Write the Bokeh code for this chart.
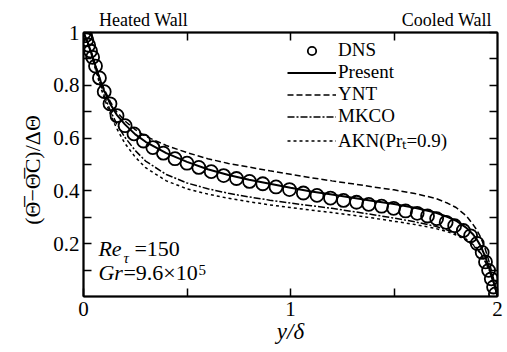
from bokeh.plotting import figure
from bokeh.models import (LinearAxis, FixedTicker, PrintfTickFormatter, Label,
                          Legend, LegendItem, Range1d, CustomJSTickFormatter)
from bokeh.embed import file_html
from bokeh.resources import INLINE

# ---- data ----
dns_x = [0.005, 0.010, 0.016, 0.025, 0.034, 0.044, 0.058, 0.077, 0.100, 0.128,
         0.162, 0.201, 0.244, 0.290, 0.335, 0.386, 0.442, 0.500, 0.557, 0.617,
         0.677, 0.739, 0.802, 0.866, 0.930, 0.995, 1.062, 1.128, 1.193, 1.256,
         1.319, 1.378, 1.440, 1.498, 1.556, 1.612, 1.662, 1.706, 1.752, 1.793,
         1.835, 1.870, 1.902, 1.926, 1.942, 1.957, 1.970, 1.981, 1.990]
dns_y = [1.000, 0.988, 0.972, 0.952, 0.930, 0.906, 0.873, 0.828, 0.776, 0.730,
         0.685, 0.647, 0.616, 0.589, 0.564, 0.543, 0.522, 0.505, 0.489, 0.473,
         0.458, 0.447, 0.436, 0.427, 0.415, 0.405, 0.392, 0.383, 0.373, 0.364,
         0.357, 0.349, 0.342, 0.334, 0.324, 0.315, 0.305, 0.295, 0.281, 0.268,
         0.250, 0.230, 0.201, 0.167, 0.131, 0.099, 0.067, 0.036, 0.010]

model_x = [0.0, 0.02, 0.04, 0.06, 0.08, 0.10, 0.13, 0.16, 0.20, 0.25, 0.30, 0.40,
           0.50, 0.60, 0.70, 0.80, 0.90, 1.00, 1.10, 1.20, 1.30, 1.40, 1.50,
           1.60, 1.70, 1.76, 1.80, 1.85, 1.88, 1.90, 1.92, 1.94, 1.96, 1.98,
           1.99, 2.00]
present_y = [1.0, 0.963, 0.918, 0.868, 0.821, 0.779, 0.728, 0.689, 0.652, 0.614,
             0.586, 0.543, 0.510, 0.482, 0.460, 0.442, 0.427, 0.412, 0.398,
             0.386, 0.374, 0.362, 0.350, 0.336, 0.318, 0.301, 0.287, 0.260,
             0.237, 0.216, 0.189, 0.152, 0.109, 0.058, 0.030, 0.0]
ynt_y = [1.0, 0.963, 0.920, 0.870, 0.825, 0.785, 0.737, 0.700, 0.665, 0.632,
         0.607, 0.572, 0.545, 0.522, 0.504, 0.490, 0.476, 0.463, 0.450, 0.438,
         0.427, 0.415, 0.404, 0.390, 0.372, 0.353, 0.337, 0.305, 0.275, 0.252,
         0.222, 0.182, 0.130, 0.070, 0.035, 0.0]
mkco_y = [1.0, 0.960, 0.913, 0.860, 0.808, 0.762, 0.703, 0.655, 0.603, 0.553,
          0.513, 0.462, 0.430, 0.408, 0.391, 0.377, 0.365, 0.354, 0.344, 0.334,
          0.322, 0.310, 0.297, 0.283, 0.266, 0.251, 0.238, 0.217, 0.198, 0.183,
          0.163, 0.135, 0.100, 0.055, 0.028, 0.0]
akn_y = [1.0, 0.958, 0.910, 0.855, 0.800, 0.752, 0.690, 0.637, 0.580, 0.528,
         0.488, 0.438, 0.408, 0.388, 0.372, 0.359, 0.347, 0.337, 0.327, 0.318,
         0.308, 0.297, 0.285, 0.273, 0.258, 0.245, 0.233, 0.213, 0.195, 0.180,
         0.160, 0.133, 0.099, 0.055, 0.028, 0.0]

x_ticks = [0, 1, 2]
x_minor = [0.5, 1.5]
y_ticks = [0.2, 0.4, 0.6, 0.8, 1.0]
y_minor = [0.1, 0.3, 0.5, 0.7, 0.9]
wall_pos = [0.29, 1.755]
wall_labels = ["Heated Wall", "Cooled Wall"]
top_ticks = [0.5, 1.0, 1.5]

FONT = "'Liberation Serif', serif"

p = figure(width=507, height=352, output_backend="svg", toolbar_location=None,
           x_range=Range1d(0, 2), y_range=Range1d(0, 1),
           min_border_left=83, min_border_right=10, min_border_top=32,
           min_border_bottom=56)
p.grid.visible = False
p.outline_line_color = "black"
p.outline_line_width = 1.5
p.background_fill_color = "white"
p.border_fill_color = "white"


def style_axis(ax, ticks, minor, show_labels=True):
    ax.ticker = FixedTicker(ticks=ticks, minor_ticks=minor)
    ax.major_tick_in = 8
    ax.major_tick_out = 0
    ax.minor_tick_in = 8
    ax.minor_tick_out = 0
    ax.axis_line_width = 2
    ax.axis_line_color = "black"
    ax.major_tick_line_width = 1.5
    ax.minor_tick_line_width = 1.5
    ax.major_tick_line_color = "black"
    ax.minor_tick_line_color = "black"
    ax.major_label_text_font = FONT
    ax.major_label_text_color = "black"
    ax.major_label_text_font_size = "21px"
    if show_labels:
        ax.formatter = PrintfTickFormatter(format="%g")
    else:
        ax.formatter = CustomJSTickFormatter(code="return '';")
        ax.major_label_standoff = 0


xa = p.xaxis[0]
ya = p.yaxis[0]
style_axis(xa, x_ticks, x_minor)
style_axis(ya, y_ticks, y_minor)
xa.major_label_standoff = 5
ya.major_label_standoff = 4
xa.axis_label = "y/δ"
xa.axis_label_text_font = FONT
xa.axis_label_text_font_style = "italic"
xa.axis_label_text_font_size = "23px"
xa.axis_label_text_color = "black"
xa.axis_label_standoff = 0
ya.axis_label = "(\u0398\u0305\u2212\u0398\u0305C)/\u0394\u0398\u00a0\u00a0"
ya.axis_label_text_font = FONT
ya.axis_label_text_font_style = "normal"
ya.axis_label_text_font_size = "22px"
ya.axis_label_text_color = "black"
ya.axis_label_standoff = 5

# top axis: ticks at 0.5/1/1.5, wall names as labels
top = LinearAxis()
style_axis(top, wall_pos, top_ticks)
top.major_tick_in = 0
top.major_label_text_font_size = "18px"
top.major_label_standoff = 3
top.formatter = CustomJSTickFormatter(
    args=dict(labels=wall_labels),
    code="return tick < 1 ? labels[0] : labels[1];")
p.add_layout(top, "above")

right = LinearAxis()
style_axis(right, y_ticks, y_minor, show_labels=False)
p.add_layout(right, "right")

r_dns = p.scatter(dns_x, dns_y, marker="circle", size=13, fill_color=None,
                  line_color="black", line_width=1.8)
r_pre = p.line(model_x, present_y, line_color="black", line_width=2)
r_ynt = p.line(model_x, ynt_y, line_color="black", line_width=1.5,
               line_dash="6 3")
r_mk = p.line(model_x, mkco_y, line_color="black", line_width=1.5,
              line_dash="7 2 2 2")
r_akn = p.line(model_x, akn_y, line_color="black", line_width=1.5,
               line_dash="3 3")

legend = Legend(items=[
    LegendItem(label="DNS", renderers=[r_dns]),
    LegendItem(label="Present", renderers=[r_pre]),
    LegendItem(label="YNT", renderers=[r_ynt]),
    LegendItem(label="MKCO", renderers=[r_mk]),
    LegendItem(label="AKN(Prₜ=0.9)", renderers=[r_akn]),
], location=(204, 143))
legend.label_text_font = FONT
legend.label_text_font_size = "19px"
legend.label_text_color = "black"
legend.label_height = 21
legend.glyph_height = 21
legend.glyph_width = 49
legend.label_standoff = 2
legend.spacing = 0
legend.padding = 0
legend.margin = 0
legend.border_line_color = None
legend.background_fill_alpha = 0
p.add_layout(legend, "center")

# parameter annotations
ax0 = 0.072
re_y = 0.135
gr_y = 0.045
common = dict(text_font=FONT, text_color="black")
p.add_layout(Label(x=ax0, y=re_y, text="Re", text_font_style="italic",
                   text_font_size="22px", **common))
p.add_layout(Label(x=ax0, y=re_y, x_offset=25, y_offset=-5, text="τ",
                   text_font_style="italic", text_font_size="15px", **common))
p.add_layout(Label(x=ax0, y=re_y, x_offset=36, text="=150",
                   text_font_size="22px", **common))
p.add_layout(Label(x=ax0, y=gr_y, text="Gr", text_font_style="italic",
                   text_font_size="22px", **common))
p.add_layout(Label(x=ax0, y=gr_y, x_offset=25, text="=9.6×10",
                   text_font_size="22px", **common))
p.add_layout(Label(x=ax0, y=gr_y, x_offset=100, y_offset=10, text="5",
                   text_font_size="15px", **common))

open("out.html", "w").write(file_html(p, INLINE))
